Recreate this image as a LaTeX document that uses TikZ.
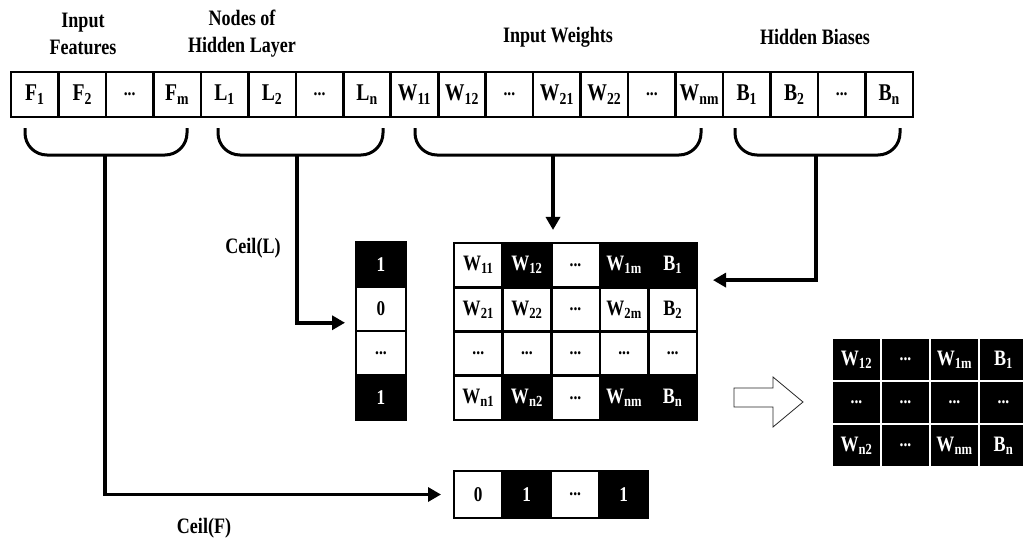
\documentclass[tikz,border=0pt]{standalone}
\usepackage{fontspec}
\setmainfont{Liberation Serif}[FakeStretch=0.82]
\usetikzlibrary{arrows.meta,positioning}

\newcommand\dts{{\fontsize{19}{20}\selectfont\bfseries...}}

\begin{document}
\begin{tikzpicture}[x=1pt,y=-1pt,>={Triangle[length=13pt,width=14pt]},
    lbl/.style={font=\fontsize{22}{27}\selectfont\bfseries,align=center},
    cell/.style={draw,fill=white,line width=2.6pt,inner sep=0pt,outer sep=0pt,
                 font=\fontsize{22}{24}\selectfont\bfseries},
    blk/.style={cell,fill=black,text=white},
    topcell/.style={cell,minimum width=47.47pt,minimum height=45pt,
                    font=\fontsize{24}{26}\selectfont\bfseries},
    vcell/.style={minimum width=50pt,minimum height=44.5pt,font=\fontsize{21}{24}\selectfont\bfseries},
    mcell/.style={minimum width=48.6pt,minimum height=44.25pt},
    fcell/.style={minimum width=48.5pt,minimum height=47pt,font=\fontsize{21}{24}\selectfont\bfseries},
    rcell/.style={draw=white,fill=black,text=white,line width=2pt,inner sep=0pt,outer sep=0pt,
                  minimum width=49pt,minimum height=43pt,font=\fontsize{22}{24}\selectfont\bfseries},
    brace/.style={line width=3pt,rounded corners=22pt},
    link/.style={->,line width=3.5pt}]

  \useasboundingbox (0,0) rectangle (1023,543);

  % headings
  \node[lbl] (hF) at (83,34) {Input\\Features};
  \node[lbl] (hL) at (242,34) {Nodes of\\Hidden Layer};
  \node[lbl] (hW) at (558,37) {Input Weights};
  \node[lbl] (hB) at (815,37) {Hidden Biases};

  % encoded individual
  \foreach \txt [count=\i] in {F\textsubscript{1},F\textsubscript{2},\dts,F\textsubscript{m},
      L\textsubscript{1},L\textsubscript{2},\dts,L\textsubscript{n},
      W\textsubscript{11},W\textsubscript{12},\dts,W\textsubscript{21},W\textsubscript{22},\dts,W\textsubscript{nm},
      B\textsubscript{1},B\textsubscript{2},\dts,B\textsubscript{n}}
    \node[topcell] (t\i) at ({11+47.47*(\i-0.5)},94.5) {\txt};

  % braces under the groups
  \foreach \a/\b/\s/\n in {25/187/105/1, 218/383/297/2, 415/701/553/3, 735/900/816/4}{
    \draw[brace] (\a,128) -- (\a,155) -- (\b,155) -- (\b,128);
    \coordinate (b\n) at (\s,155);
  }

  % Ceil(L) column
  \foreach \txt/\sty [count=\i] in {1/blk,0/cell,\dts/cell,1/blk}
    \node[\sty,vcell] (c\i) at (381,{242+44.5*(\i-0.5)}) {\txt};
  \node[lbl] (ceilL) at (253,248) {Ceil(L)};

  % weight matrix
  \foreach \txt/\sty [count=\j] in {W\textsubscript{11}/cell,W\textsubscript{12}/blk,\dts/cell,W\textsubscript{1m}/blk,B\textsubscript{1}/blk}
    \node[\sty,mcell] (m1\j) at ({454+48.6*(\j-0.5)},265.1) {\txt};
  \foreach \txt/\sty [count=\j] in {W\textsubscript{21}/cell,W\textsubscript{22}/cell,\dts/cell,W\textsubscript{2m}/cell,B\textsubscript{2}/cell}
    \node[\sty,mcell] (m2\j) at ({454+48.6*(\j-0.5)},309.4) {\txt};
  \foreach \txt/\sty [count=\j] in {\dts/cell,\dts/cell,\dts/cell,\dts/cell,\dts/cell}
    \node[\sty,mcell] (m3\j) at ({454+48.6*(\j-0.5)},353.6) {\txt};
  \foreach \txt/\sty [count=\j] in {W\textsubscript{n1}/cell,W\textsubscript{n2}/blk,\dts/cell,W\textsubscript{nm}/blk,B\textsubscript{n}/blk}
    \node[\sty,mcell] (m4\j) at ({454+48.6*(\j-0.5)},397.9) {\txt};

  % Ceil(F) row
  \foreach \txt/\sty [count=\i] in {0/cell,1/blk,\dts/cell,1/blk}
    \node[\sty,fcell] (f\i) at ({454+48.5*(\i-0.5)},494.5) {\txt};
  \node[lbl] (ceilF) at (204,528) {Ceil(F)};

  % hollow arrow
  \draw[draw=black!85,fill=white,line width=0.8pt] (734,388) -- (773,388) -- (773,377)
    -- (803,402) -- (773,427) -- (773,407) -- (734,407) -- cycle;

  % reduced matrix
  \foreach \txt [count=\j] in {W\textsubscript{12},\dts,W\textsubscript{1m},B\textsubscript{1}}
    \node[rcell] (r1\j) at ({832+49*(\j-0.5)},359.5) {\txt};
  \foreach \txt [count=\j] in {\dts,\dts,\dts,\dts}
    \node[rcell] (r2\j) at ({832+49*(\j-0.5)},402.5) {\txt};
  \foreach \txt [count=\j] in {W\textsubscript{n2},\dts,W\textsubscript{nm},B\textsubscript{n}}
    \node[rcell] (r3\j) at ({832+49*(\j-0.5)},445.5) {\txt};

  % connectors
  \draw[link,shorten >=13pt] (b1) |- (f1.west);
  \draw[link,shorten >=11pt] (b2) |- ([yshift=-14pt]c2.west);
  \draw[link,shorten >=13pt] (b3) -- (b3 |- m13.north);
  \draw[link,shorten >=16pt] (b4) |- ([yshift=-15pt]m15.east);
\end{tikzpicture}
\end{document}
